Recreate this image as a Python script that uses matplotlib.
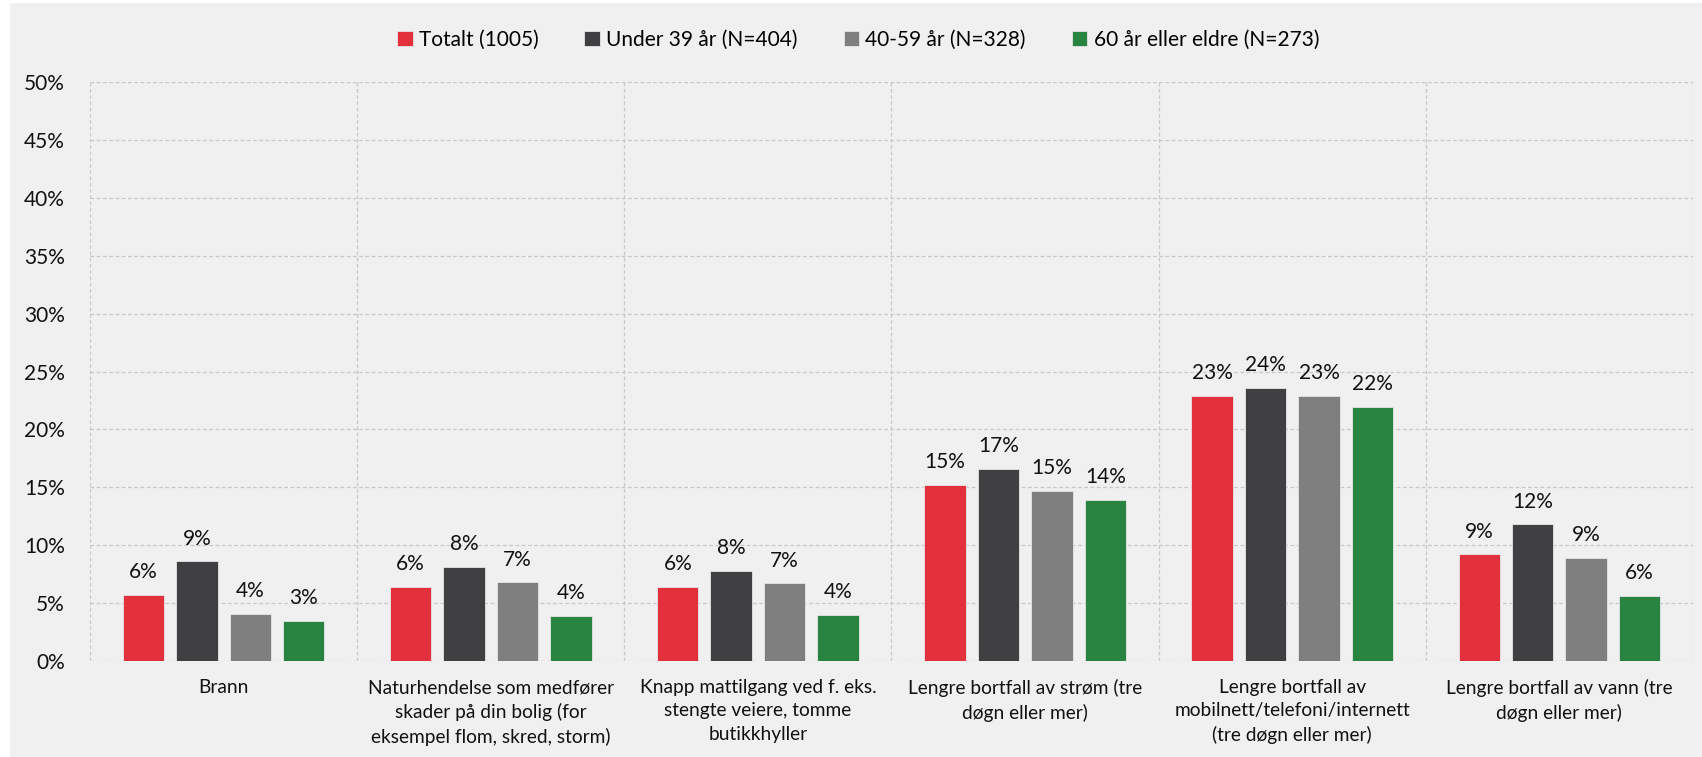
import matplotlib.pyplot as plt
import numpy as np
from matplotlib.patches import Rectangle

plt.rcParams['font.family'] = ['Lato', 'DejaVu Sans']

categories = ["Brann",
              "Naturhendelse som medfører\nskader på din bolig (for\neksempel flom, skred, storm)",
              "Knapp mattilgang ved f. eks.\nstengte veiere, tomme\nbutikkhyller",
              "Lengre bortfall av strøm (tre\ndøgn eller mer)",
              "Lengre bortfall av\nmobilnett/telefoni/internett\n(tre døgn eller mer)",
              "Lengre bortfall av vann (tre\ndøgn eller mer)"]
series_names = ["Totalt (1005)", "Under 39 år (N=404)", "40-59 år (N=328)", "60 år eller eldre (N=273)"]
totalt = [5.7, 6.4, 6.4, 15.2, 22.9, 9.2]
under39 = [8.6, 8.1, 7.8, 16.6, 23.6, 11.8]
age40_59 = [4.1, 6.8, 6.7, 14.7, 22.9, 8.9]
age60 = [3.45, 3.9, 4.0, 13.9, 21.95, 5.6]
colors = ["#e2303d", "#404042", "#7f7f7f", "#2a8441"]
yticks = [0, 5, 10, 15, 20, 25, 30, 35, 40, 45, 50]

bg = "#f0f0f0"
fig = plt.figure(figsize=(17.02, 7.57), dpi=100, facecolor="white")
fig.patches.append(Rectangle((10 / 1702, 0), 1, 1 - 3 / 757, transform=fig.transFigure,
                             facecolor=bg, edgecolor="none", zorder=-10))
ax = fig.add_axes([90 / 1702, 1 - 661 / 757, (1693 - 90) / 1702, (661 - 82) / 757])
ax.set_facecolor(bg)

x = np.arange(len(categories))
width = 0.155
all_series = [totalt, under39, age40_59, age60]
for i, vals in enumerate(all_series):
    pos = x + (i - 1.5) * 0.2
    bars = ax.bar(pos, vals, width, color=colors[i], edgecolor="#e6e6e6", linewidth=0.6,
                  label=series_names[i], zorder=3)
    for b, v in zip(bars, vals):
        ax.text(b.get_x() + b.get_width() / 2, v + 1.1, f"{v:.0f}%", ha="center", va="bottom",
                fontsize=15, color="#111111")

ax.set_xlim(-0.5, len(categories) - 0.5)
ax.set_ylim(0, 50)
ax.set_yticks(yticks)
ax.set_yticklabels([f"{t}%" for t in yticks], fontsize=15, color="#111111")
ax.set_xticks(x)
ax.set_xticklabels(categories, fontsize=13.8, color="#111111", linespacing=1.45)
ax.tick_params(axis="both", length=0)
ax.tick_params(axis="y", pad=18)
ax.tick_params(axis="x", pad=13)

for y in yticks:
    ax.axhline(y, color="#c8c8c8", linestyle=(0, (3, 2)), linewidth=0.9, zorder=1)
for xb in np.arange(-0.5, len(categories), 1.0):
    ax.axvline(xb, color="#c8c8c8", linestyle=(0, (3, 2)), linewidth=0.9, zorder=1)
for s in ax.spines.values():
    s.set_visible(False)

fig.legend(loc="center", bbox_to_anchor=(858 / 1702, 1 - 40 / 757), ncol=4, frameon=False,
           fontsize=15, handlelength=0.75, handleheight=0.75, handletextpad=0.3,
           columnspacing=2.2)

fig.savefig("out.png", dpi=100, facecolor=fig.get_facecolor())
